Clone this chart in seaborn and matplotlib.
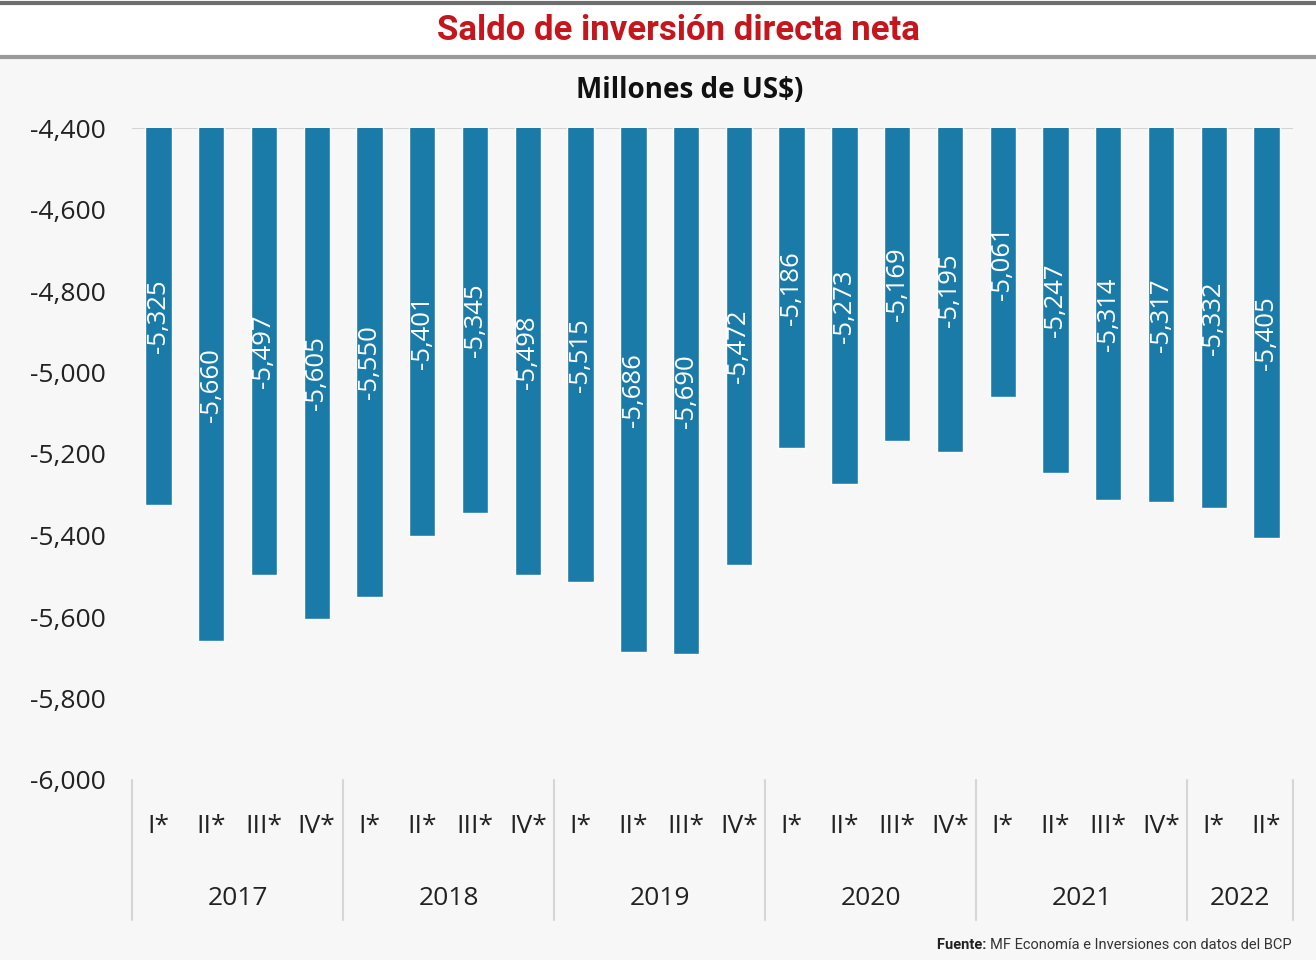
import pandas as pd
import matplotlib.pyplot as plt
import seaborn as sns
from matplotlib.lines import Line2D
from matplotlib.patches import Rectangle

# ==========================================
# DATOS
# ==========================================
anios = ['2017', '2018', '2019', '2020', '2021', '2022']
trimestres_por_anio = [4, 4, 4, 4, 4, 2]
trimestres = ['I*', 'II*', 'III*', 'IV*'] * 5 + ['I*', 'II*']
saldo = [-5325, -5660, -5497, -5605,
         -5550, -5401, -5345, -5498,
         -5515, -5686, -5690, -5472,
         -5186, -5273, -5169, -5195,
         -5061, -5247, -5314, -5317,
         -5332, -5405]
y_ticks = [-4400, -4600, -4800, -5000, -5200, -5400, -5600, -5800, -6000]

anio_col = []
for a, n in zip(anios, trimestres_por_anio):
    anio_col += [a] * n
df = pd.DataFrame({'anio': anio_col, 'trimestre': trimestres, 'saldo': saldo})
df['periodo'] = df['anio'] + ' ' + df['trimestre']

# ==========================================
# ESTILO
# ==========================================
sns.set_theme(style='white')
plt.rcParams['font.family'] = ['Open Sans', 'DejaVu Sans']
fuente_estrecha = ['Roboto', 'DejaVu Sans']

W, H = 1316, 960
fondo = '#f7f7f7'
azul = '#1a7aa8'

fig = plt.figure(figsize=(W / 100, H / 100), dpi=100, facecolor=fondo)
ax = fig.add_axes([132 / W, 1 - 780 / H, (1293 - 132) / W, (780 - 128) / H])
ax.set_facecolor(fondo)

sns.barplot(data=df, x='periodo', y='saldo', order=list(df['periodo']),
            color=azul, saturation=1, width=0.5, ax=ax)

ax.set_ylim(-6000, -4400)
ax.set_xlim(-0.5, len(df) - 0.5)
ax.set_yticks(y_ticks)
ax.set_yticklabels([f'{v:,}' for v in y_ticks], fontsize=19, color='#222222')
ax.tick_params(axis='y', length=0, pad=19)
ax.set_xticks([])
ax.set_xlabel('')
ax.set_ylabel('')
for s in ax.spines.values():
    s.set_visible(False)
ax.axhline(-4400, color='#d4d4d4', lw=1.5, zorder=0)

# etiquetas de datos, centradas en la barra
for i, v in enumerate(df['saldo']):
    ax.text(i, (v + -4400) / 2, f'{v:,}', rotation=90, ha='center', va='center',
            color='white', fontsize=18.5)

# eje de categorias en dos niveles
tr = ax.get_xaxis_transform()
for i, t in enumerate(df['trimestre']):
    ax.text(i, -0.072, t, transform=tr, ha='center', va='center',
            fontsize=19, color='#222222')
inicio = -0.5
bordes = [inicio]
for a, n in zip(anios, trimestres_por_anio):
    ax.text(inicio + n / 2, -0.182, a, transform=tr, ha='center', va='center',
            fontsize=19, color='#222222')
    inicio += n
    bordes.append(inicio)
for b in bordes:
    ax.add_line(Line2D([b, b], [0, -0.215], transform=tr, color='#d6d6d6',
                       lw=1.5, clip_on=False))

# cabecera
fig.patches.append(Rectangle((0, 1 - 57 / H), 1, 57 / H, transform=fig.transFigure,
                             facecolor='white', edgecolor='none', zorder=0))
fig.add_artist(Line2D([0, 1], [1 - 3 / H, 1 - 3 / H], color='#6e6e6e', lw=3))
fig.add_artist(Line2D([0, 1], [1 - 57 / H, 1 - 57 / H], color='#9a9a9a', lw=3))
fig.text(678 / W, 1 - 31 / H, 'Saldo de inversión directa neta', ha='center', va='center',
         fontsize=25, fontweight='bold', color='#c4161c', family=fuente_estrecha)
fig.text(690 / W, 1 - 90 / H, 'Millones de US$)', ha='center', va='center',
         fontsize=20, fontweight='bold', color='#111111')

# fuente
t_resto = fig.text(1292 / W, 1 - 945 / H, 'MF Economía e Inversiones con datos del BCP',
                   ha='right', va='center', fontsize=10.5, color='#333333',
                   family=fuente_estrecha)
t_fuente = fig.text(0, 1 - 945 / H, 'Fuente: ', ha='right', va='center', fontsize=10.5,
                    fontweight='bold', color='#222222', family=fuente_estrecha)

# "Fuente:" justo antes del resto del texto
fig.canvas.draw()
r = fig.canvas.get_renderer()
ancho = t_resto.get_window_extent(r).width
t_fuente.set_x((1292 - ancho) / W)

fig.savefig('out.png', dpi=100, facecolor=fondo)
